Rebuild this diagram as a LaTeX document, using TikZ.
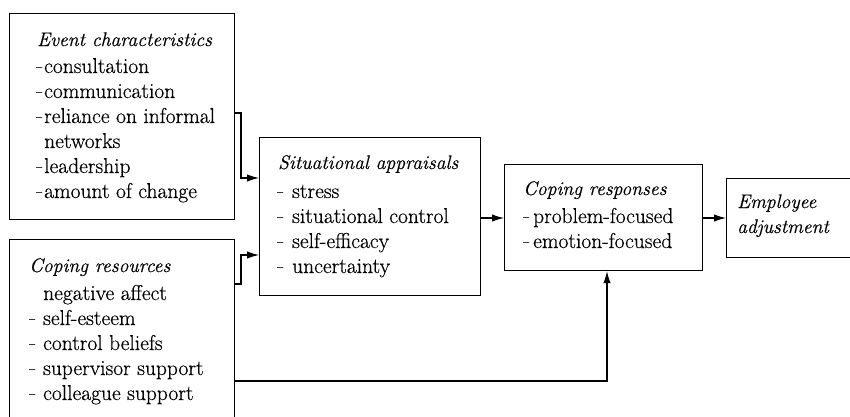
\documentclass[tikz,border=0pt]{standalone}
\usepackage{fontspec}
\usepackage{graphicx}
\setmainfont{Latin Modern Roman}[FakeBold=0.5, ItalicFeatures={FakeBold=0.5}]
\usetikzlibrary{arrows.meta}
\newcommand{\dsh}[1]{\makebox[#1][l]{\scalebox{0.6}[1]{–}}}
\tikzset{
  box/.style={draw=black, line width=1.2pt, rectangle, inner sep=0pt, anchor=north west},
  ttl/.style={anchor=base west, inner sep=0pt, font=\fontsize{19.6}{25}\selectfont\itshape},
  itm/.style={anchor=base west, inner sep=0pt, font=\fontsize{21.5}{25}\selectfont},
  conn/.style={line width=1.2pt, -{Latex[length=12pt,width=7.5pt]}},
}
\begin{document}
\begin{tikzpicture}[x=1pt,y=-1pt]
\useasboundingbox (0,0) rectangle (850,416);
\clip (0,0) rectangle (850,416);
% boxes
\node[box, minimum width=225pt, minimum height=206pt] (b1) at (9,13) {};
\node[box, minimum width=225pt, minimum height=185pt] (b2) at (9,239) {};
\node[box, minimum width=221pt, minimum height=158pt] (b3) at (259,137) {};
\node[box, minimum width=198pt, minimum height=106pt] (b4) at (504,164) {};
\node[box, minimum width=130pt, minimum height=79pt] (b5) at (726,178) {};
% box 1 text
\node[ttl] (t1) at (37,46) {Event characteristics};
\node[itm] (e1) at (36,73) {\dsh{8pt}consultation};
\node[itm] (e2) at (36,98) {\dsh{8pt}communication};
\node[itm] (e3) at (36,123) {\dsh{8pt}reliance on informal};
\node[itm] (e4) at (44,148) {networks};
\node[itm] (e5) at (36,173) {\dsh{8pt}leadership};
\node[itm] (e6) at (36,198) {\dsh{8pt}amount of change};
% box 2 text
\node[ttl] (t2) at (29,272) {Coping resources};
\node[itm] (r1) at (43,300) {negative affect};
\node[itm] (r2) at (29,325) {\dsh{14pt}self-esteem};
\node[itm] (r3) at (29,350) {\dsh{14pt}control beliefs};
\node[itm] (r4) at (29,375) {\dsh{14pt}supervisor support};
\node[itm] (r5) at (29,400) {\dsh{14pt}colleague support};
% box 3 text
\node[ttl] (t3) at (278,169) {Situational appraisals};
\node[itm] (s1) at (277,198) {\dsh{15pt}stress};
\node[itm] (s2) at (277,223) {\dsh{15pt}situational control};
\node[itm] (s3) at (277,248) {\dsh{15pt}self-efficacy};
\node[itm] (s4) at (277,273) {\dsh{15pt}uncertainty};
% box 4 text
\node[ttl] (t4) at (523,195) {Coping responses};
\node[itm] (c1) at (523,223) {\dsh{10pt}problem-focused};
\node[itm] (c2) at (523,248) {\dsh{10pt}emotion-focused};
% box 5 text
\node[ttl] (t5) at (737,208) {Employee};
\node[ttl] (t6) at (737,233) {adjustment};
% connectors
\draw[conn] (b1.east |- 0,113) -- (241,113) -- (241,178) -- (b3.west |- 0,178);
\draw[conn] (b2.east |- 0,284) -- (241,284) -- (241,255) -- (b3.west |- 0,255);
\draw[conn] (b3.east |- 0,218) -- (b4.west |- 0,218);
\draw[conn] (b4.east |- 0,218) -- (b5.west |- 0,218);
\draw[conn] (b2.east |- 0,381) -- (607,381) -- (607,0 |- b4.south);
\end{tikzpicture}
\end{document}
